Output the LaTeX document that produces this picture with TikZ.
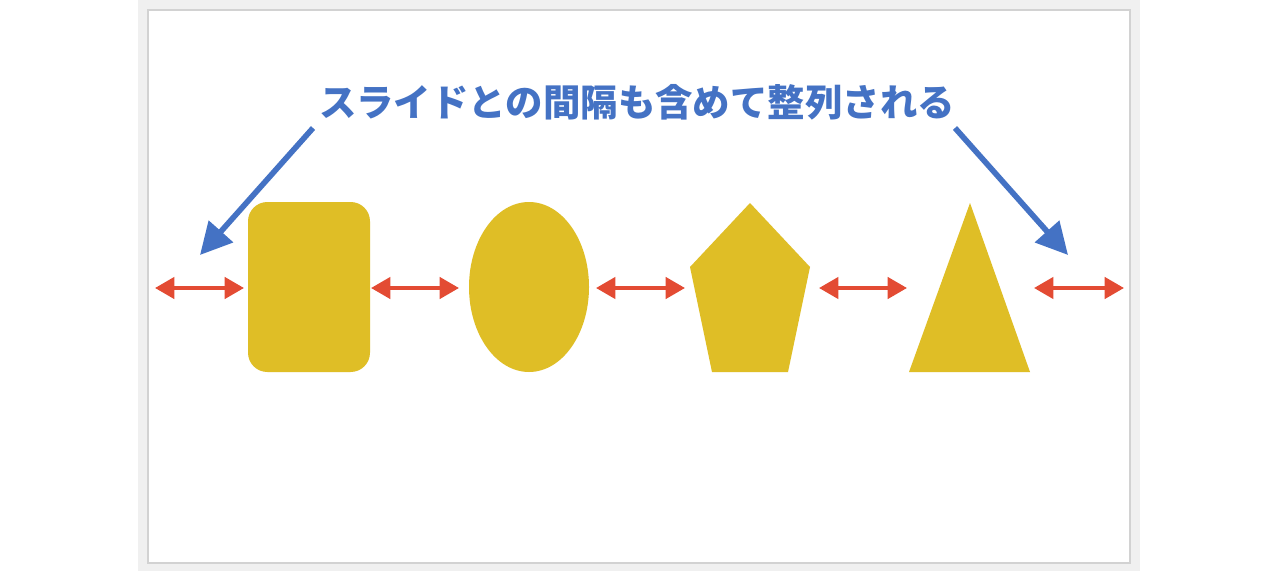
\documentclass[tikz,border=0pt]{standalone}
\usepackage{fontspec}
\newfontfamily\jpfont{Noto Sans CJK JP}
\usetikzlibrary{arrows.meta,calc}
\definecolor{shapeyellow}{HTML}{DFBE26}
\definecolor{gaparrow}{HTML}{E34B33}
\definecolor{notearrow}{HTML}{4472C4}
\tikzset{
  shapefill/.style={fill=shapeyellow, draw=none},
  gap/.style={gaparrow, line width=2.3pt, {Triangle[length=11pt,width=12pt]}-{Triangle[length=11pt,width=12pt]}},
  note/.style={notearrow, line width=3.2pt, -{Triangle[length=18pt,width=18pt]}}
}
\begin{document}
\begin{tikzpicture}[x=0.02cm,y=-0.02cm]

\useasboundingbox (0,0) rectangle (1280,571);
\fill[white] (0,0) rectangle (1280,571);

% slide
\fill[gray!12] (138,0) rectangle (1140,571);
\filldraw[fill=white, draw=gray!35, line width=0.6pt] (148,10) rectangle (1130,563);

% title
\node[text=notearrow, font=\jpfont\bfseries\fontsize{21.3pt}{24pt}\selectfont] (title) at (637,102) {スライドとの間隔も含めて整列される};

% shapes
\fill[shapefill, rounded corners=11pt] (248,202) rectangle (370,372);
\fill[shapefill] (529,287) ellipse [x radius=60, y radius=85];
\fill[shapefill] (750,203) -- (810,267) -- (788,372) -- (712,372) -- (690,267) -- cycle;
\fill[shapefill] (970,203) -- (1030,372) -- (909,372) -- cycle;

% gap arrows
\foreach \a/\b [count=\i] in {155/244,371/459,596/685,819/907,1034/1124}
{
\coordinate (g\i l) at (\a,288);
\coordinate (g\i r) at (\b,288);
\draw[gap] (g\i l) -- (g\i r);
}

% pointers
\coordinate (pl) at (313,128);
\coordinate (pr) at (955,128);
\coordinate (tl) at (200,255);
\coordinate (tr) at (1068,255);
\draw[note] (pl) -- (tl);
\draw[note] (pr) -- (tr);

\end{tikzpicture}
\end{document}
